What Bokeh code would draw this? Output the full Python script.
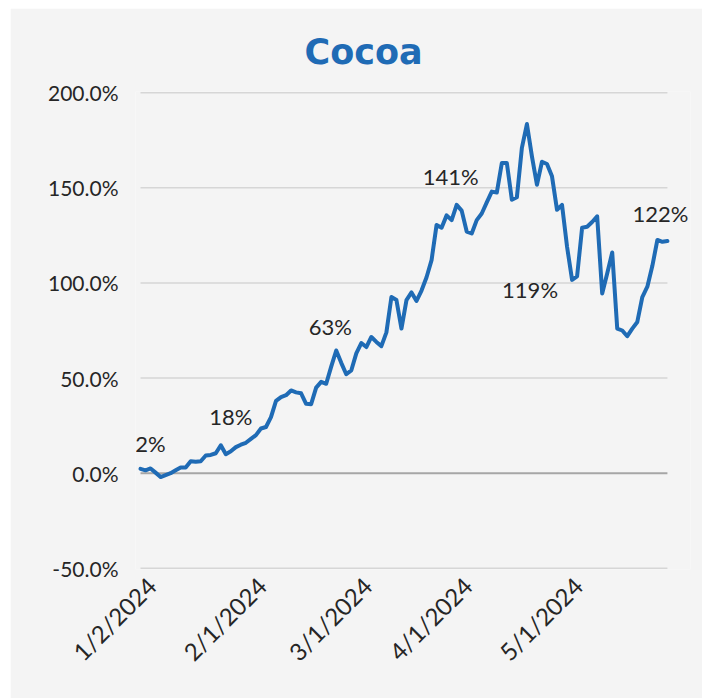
import pandas as pd
from math import pi
from bokeh.plotting import figure
from bokeh.models import (Range1d, FixedTicker, PrintfTickFormatter, Label, Title,
                          LinearAxis)
from bokeh.embed import file_html
from bokeh.resources import INLINE

# ---------------- data ----------------
holidays = ["2024-03-29", "2024-05-06", "2024-05-27"]
dates = [d for d in pd.bdate_range("2024-01-02", "2024-05-31")
         if d.strftime("%Y-%m-%d") not in holidays]

cocoa_pct = [
    2.3, 1.5, 2.5, 0.3, -2.0, -1.0, 0.0, 1.5, 3.0, 3.0,
    6.3, 6.0, 6.3, 9.3, 9.6, 10.5, 14.7, 10.0, 11.5, 13.7,
    15.0, 16.0, 18.0, 20.0, 23.5, 24.3, 29.5, 38.0, 40.0, 41.0,
    43.5, 42.5, 42.0, 36.5, 36.3, 45.0, 48.0, 47.0, 56.0, 64.5,
    58.0, 52.0, 54.0, 63.0, 68.4, 66.3, 71.6, 69.0, 66.8, 74.0,
    92.6, 91.0, 76.0, 91.0, 95.0, 90.5, 96.0, 103.0, 112.0, 130.5,
    129.0, 135.5, 133.0, 141.0, 138.0, 127.0, 126.0, 133.0, 136.5, 142.3,
    148.0, 147.5, 163.0, 163.0, 143.7, 145.0, 171.0, 183.5, 166.5, 151.6,
    163.7, 162.5, 156.0, 138.4, 141.0, 119.0, 101.6, 103.5, 129.0, 129.5,
    132.0, 135.0, 94.5, 105.0, 116.0, 76.0, 75.0, 72.0, 76.0, 79.5,
    92.6, 98.0, 109.0, 122.6, 121.6, 122.0,
]
n = min(len(dates), len(cocoa_pct))
dates = dates[:n]
cocoa_pct = cocoa_pct[:n]
idx = list(range(n))

y_ticks = [-50, 0, 50, 100, 150, 200]
title_text = "Cocoa"

# month-start tick positions & labels
tick_idx = [i for i in idx if i == 0 or dates[i].month != dates[i - 1].month]
tick_labels = {i: f"{dates[i].month}/{dates[i].day}/{dates[i].year}" for i in tick_idx}

# data labels: month starts + last point
label_idx = tick_idx + [n - 1]
label_vals = [cocoa_pct[i] for i in label_idx]
label_text = [f"{round(v)}%" for v in label_vals]
# style: pixel offsets for each data label
label_dx = [10, -20, -26, -6, -37, -7]
label_dy = [25, 22, 27, 28, -43, 28]

# ---------------- styling ----------------
BLUE = "#1f6bb5"
BG = "#f4f4f4"
TXT = "#262626"
FONT = "Lato"
PX_PER_STEP = 5.019          # horizontal pixels per trading day
LBL_SHIFT = 11 / PX_PER_STEP  # rotated date labels sit a little right of their tick

x0, x1 = -1, 109.6
p = figure(width=692, height=690,
           x_range=Range1d(x0, x1), y_range=Range1d(-50.6, 200.6),
           x_axis_location=None,
           output_backend="svg", toolbar_location=None,
           min_border_left=125, min_border_right=12,
           min_border_top=83, min_border_bottom=129,
           background_fill_color=BG, border_fill_color=BG,
           outline_line_color=None)
p.margin = (8, 0, 0, 10)
p.extra_x_ranges = {"lbl": Range1d(x0 - LBL_SHIFT, x1 - LBL_SHIFT)}

t = Title(text=title_text, align="left", offset=169, standoff=40,
          text_font="DejaVu Sans", text_font_style="bold",
          text_font_size="35px", text_color=BLUE)
p.add_layout(t, "above")

# grid lines (limited to the data span)
p.xgrid.grid_line_color = None
p.ygrid.grid_line_color = None
grid_y = [v for v in y_ticks if v != 0]
p.segment(x0=[0] * len(grid_y), x1=[n - 1] * len(grid_y), y0=grid_y, y1=grid_y,
          line_color="#d6d6d6", line_width=1.5)
p.segment(x0=[0], x1=[n - 1], y0=[0], y1=[0], line_color="#a6a6a6", line_width=2)

# y axis
p.yaxis.ticker = FixedTicker(ticks=y_ticks)
p.yaxis.formatter = PrintfTickFormatter(format="%.1f%%")
p.yaxis.axis_line_color = None
p.yaxis.major_tick_line_color = None
p.yaxis.minor_tick_line_color = None
p.yaxis.major_tick_out = 0
p.yaxis.minor_tick_out = 0
p.yaxis.major_label_standoff = 17
p.yaxis.major_label_text_font = FONT
p.yaxis.major_label_text_font_size = "21px"
p.yaxis.major_label_text_color = TXT

# x axis (dates at month starts)
xa = LinearAxis(x_range_name="lbl", ticker=FixedTicker(ticks=tick_idx),
                major_label_overrides=tick_labels,
                major_label_orientation=pi / 4,
                axis_line_color=None, major_tick_line_color=None,
                minor_tick_line_color=None, major_tick_out=0, minor_tick_out=0,
                major_label_standoff=12,
                major_label_text_font=FONT, major_label_text_font_size="24px",
                major_label_text_color=TXT)
p.add_layout(xa, "below")

# line
p.line(idx, cocoa_pct, line_width=4, line_color=BLUE, line_join="round", line_cap="round")

# data labels
for i, v, txt, dx, dy in zip(label_idx, label_vals, label_text, label_dx, label_dy):
    p.add_layout(Label(x=i, y=v, text=txt, x_offset=dx, y_offset=dy,
                       text_align="center", text_baseline="middle",
                       text_font=FONT, text_font_size="22px", text_color=TXT))

open("out.html", "w").write(file_html(p, INLINE))
